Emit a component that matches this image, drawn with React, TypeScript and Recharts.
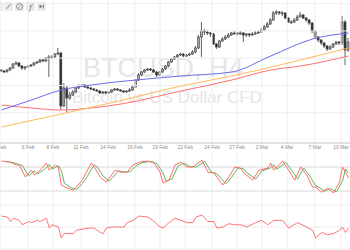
import React from "react";
import { ComposedChart, Bar, Line, XAxis, YAxis, ReferenceLine } from "recharts";

// ---------- price (H4 candles, resampled) ----------
const firstOpen = 8350;
const closes = [8295,8240,8350,8460,8680,8735,8570,8460,8515,8570,
8625,8735,8790,8900,8845,9010,9065,9065,9230,9285,
6370,7360,6810,6975,7140,7360,7470,7525,7415,7360,
7305,7250,7195,7085,7140,7085,7140,7250,7305,7250,
7195,7140,7195,7250,7415,7800,8075,8240,8350,8405,
8350,8240,8075,8240,8405,8570,8790,8955,9065,9175,
9230,9120,9175,9230,9340,9560,10165,10495,10440,10385,
10330,9780,9615,9945,10055,10165,10275,10385,10385,10330,
10385,10275,10330,10275,10330,10385,10440,10550,10715,10880,
11100,11485,11540,11485,11485,11210,10990,10990,11100,11265,
11375,11210,11100,10935,10495,10165,10000,9835,9670,9505,
9615,9780,9890,9835,10990,9450,9890];
const highs = [8405,8350,8405,8515,8735,8845,8790,8625,8570,8625,
8680,8790,8845,8955,8955,9065,9175,9175,9285,9560,
9340,7635,7470,7140,7250,7415,7580,7580,7580,7470,
7415,7360,7305,7250,7195,7195,7195,7305,7360,7360,
7305,7250,7250,7360,7525,7855,8185,8295,8405,8460,
8460,8405,8295,8295,8460,8625,8845,9010,9120,9230,
9285,9285,9230,9285,9450,9670,10275,10990,10605,10550,
10440,10385,9835,10000,10165,10275,10385,10440,10495,10440,
10495,10440,10385,10385,10440,10495,10550,10660,10825,10990,
11210,11595,11650,11595,11595,11540,11265,11100,11210,11375,
11540,11430,11265,11155,10990,10550,10220,10055,9890,9725,
9725,9835,9945,9945,11320,11100,10110];
const lows = [8240,8185,8240,8295,8405,8625,8515,8350,8350,8460,
8515,8570,8680,8735,8790,8790,7965,8955,9010,9175,
6150,6315,5985,6700,6920,7085,7305,7415,7360,7305,
7250,7195,7140,7030,7030,7030,7030,7085,7195,7195,
7140,7085,7085,7140,7195,7360,7745,8020,8185,8295,
8295,8185,7965,8020,8185,8350,8515,8735,8900,9010,
9120,9065,9065,9120,9175,9285,9505,9065,10275,10275,
10165,9725,9505,9560,9890,10000,10110,10220,10275,10220,
10275,9890,10165,10165,10220,10275,10330,10385,10495,10660,
10825,11045,11375,11375,11320,11155,10935,10880,10935,11045,
11265,11155,10990,10825,10385,10055,9890,9725,9560,9395,
9450,9560,9725,9725,9725,8625,9340];

// moving averages (read at selected bars)
const blueBars = [0, 10, 20, 30, 45, 60, 77, 90, 104, 116];
const blueVals = [6150, 6700, 7250, 7525, 7800, 8020, 8240, 9120, 10055, 10385];
const orangeBars = [0, 20, 40, 60, 77, 100, 116];
const orangeVals = [5215, 5930, 6675, 7470, 8020, 8900, 9560];
const redBars = [0, 10, 20, 30, 40, 60, 77, 90, 100, 116];
const redVals = [6425, 6260, 6150, 6260, 6480, 7195, 7800, 8350, 8570, 9120];

// date axis
const dateTickPos = [0, 9.4, 17.7, 27.1, 36.1, 45.1, 53.5, 61.9, 70.9, 79.2, 87.6, 96, 105.3, 114];
const dateLabels = ["4 Feb", "6 Feb", "8 Feb", "11 Feb", "14 Feb", "16 Feb", "19 Feb", "22 Feb", "24 Feb", "27 Feb", "2 Mar", "4 Mar", "7 Mar", "10 Mar"];
const priceGrid = [6000, 7500, 9000, 10500, 12000];

// ---------- stochastic ----------
const kBars = [0,3,5,6,8,10,11,13,15,16,18,19,20,22,24,25,27,30,31,33,35,36,38,40,42,44,46,49,51,53,54,56,58,60,62,64,67,69,71,74,76,78,80,81,84,86,89,90,91,94,96,98,100,102,104,105,107,109,111,113,114,115,116];
const kVals = [95,92,85,85,55,72,60,72,90,72,85,80,35,27,22,30,47,90,80,55,42,52,72,67,67,85,92,95,90,67,40,47,85,92,80,80,97,67,65,35,55,80,77,65,47,72,77,90,72,95,72,47,80,60,30,30,17,27,15,42,80,67,52];
const dBars = [1,4,6,7,9,11,12,14,16,17,19,20,21,23,25,26,28,31,32,34,36,37,39,41,43,45,47,50,52,54,55,57,59,61,63,65,68,70,72,75,77,79,81,82,85,87,90,91,92,95,97,99,101,103,105,106,108,110,112,114,115,116];
const dVals = [94,91,86,84,58,70,62,72,86,75,83,72,40,29,24,30,48,86,80,57,45,52,70,68,68,83,91,94,88,65,45,50,82,90,81,80,94,68,63,38,55,78,75,66,50,70,78,86,74,92,72,50,77,58,33,30,20,26,18,45,75,65];
const stochLevels = [20, 80];

// ---------- RSI ----------
const rsiBars = [0,2,3,4,6,7,9,10,12,13,15,16,17,19,20,21,24,25,29,31,33,34,35,37,41,42,44,46,49,51,53,54,56,57,58,60,62,64,65,67,69,71,72,74,76,78,80,82,85,87,89,91,94,96,99,102,104,105,107,109,111,113,114,115,116];
const rsiVals = [60,59,55,58,56,52,55,54,56,55,58,49,52,50,40,44,44,47,49,49,45,44,49,50,50,54,56,60,59,55,50,49,54,56,58,56,54,54,59,61,55,55,49,50,53,52,52,50,54,56,52,56,56,49,54,50,47,40,45,43,44,47,50,45,49];
const rsiLevels = [30, 50, 70];

const N = closes.length;

type Row = { [k: string]: number | undefined };
const priceData: Row[] = closes.map((c, i) => ({
  t: i + 0.5,
  open: i === 0 ? firstOpen : closes[i - 1],
  close: c,
  high: highs[i],
  low: lows[i],
}));
blueBars.forEach((b, k) => (priceData[b].blue = blueVals[k]));
orangeBars.forEach((b, k) => (priceData[b].orange = orangeVals[k]));
redBars.forEach((b, k) => (priceData[b].red = redVals[k]));

const stochData: Row[] = closes.map((_, i) => ({ t: i + 0.5 }));
kBars.forEach((b, k) => (stochData[b].k = kVals[k]));
dBars.forEach((b, k) => (stochData[b].d = dVals[k]));

const rsiData: Row[] = closes.map((_, i) => ({ t: i + 0.5 }));
rsiBars.forEach((b, k) => (rsiData[b].rsi = rsiVals[k]));

const GRID = "#eeeeee";

const Candle = (props: any) => {
  const { x, y, width, height, payload } = props;
  if (x == null || y == null) return null;
  const top = Math.min(y, y + height);
  const h = Math.abs(height);
  const { open, close, high, low } = payload;
  const range = high - low || 1;
  const py = (v: number) => top + ((high - v) / range) * h;
  const cx = x + width / 2;
  const bTop = py(Math.max(open, close));
  const bBot = py(Math.min(open, close));
  const bull = close >= open;
  return (
    <g>
      <line x1={cx} x2={cx} y1={top} y2={top + h} stroke="#3a3a3a" strokeWidth={0.8} />
      <rect
        x={x}
        y={bTop}
        width={width}
        height={Math.max(0.8, bBot - bTop)}
        fill={bull ? "#a8a8a8" : "#333333"}
        stroke="#3a3a3a"
        strokeWidth={0.6}
      />
    </g>
  );
};

const vLines = (keyPrefix: string) =>
  dateTickPos.map((p, i) => (
    <ReferenceLine key={keyPrefix + i} x={p} stroke={GRID} strokeWidth={1} ifOverflow="visible" />
  ));

const ToolIcons = () => (
  <svg width={60} height={14} style={{ position: "absolute", left: 0, top: 0 }}>
    <rect x={-5} y={2} width={8} height={9} fill="#ececec" />
    <rect x={4} y={2} width={9} height={9} fill="#ececec" />
    <line x1={6.5} y1={9} x2={10.5} y2={4} stroke="#777" strokeWidth={0.8} />
    <rect x={15} y={2} width={9} height={9} fill="#ececec" />
    <circle cx={19.5} cy={6.5} r={3} fill="none" stroke="#777" strokeWidth={0.8} />
    <line x1={17.5} y1={8.5} x2={21.5} y2={4.5} stroke="#777" strokeWidth={0.6} />
    <rect x={26} y={2} width={9} height={9} fill="#ececec" />
    <text x={30.5} y={9.5} fontSize={8} fontStyle="italic" fill="#777" textAnchor="middle" fontFamily="DejaVu Serif">f</text>
    <rect x={37} y={2} width={9} height={9} fill="#ececec" />
    <path d="M39.5,4.5 L42.5,6.5 L39.5,8.5 Z" fill="#777" />
    <rect x={42.8} y={4.5} width={1} height={4} fill="#777" />
  </svg>
);

export default function App() {
  return (
    <div style={{ position: "absolute", left: 0, top: 0, width: 350, height: 250, background: "#fff", overflow: "hidden", fontFamily: "'Liberation Sans', Arial, sans-serif" }}>
      <svg width={350} height={250} style={{ position: "absolute", left: 0, top: 0 }}>
        <text x={83} y={77} fontSize={27} fill="#e6e6e6" fontFamily="'Liberation Sans', Arial, sans-serif">BTCUSD, H4</text>
        <text x={72} y={103} fontSize={17} fill="#e6e6e6" fontFamily="'Liberation Sans', Arial, sans-serif">Bitcoin vs US Dollar CFD</text>
      </svg>

      <div style={{ position: "absolute", left: 0, top: 0 }}>
        <ComposedChart width={350} height={153} data={priceData} margin={{ top: 0, right: 0, bottom: 0, left: 0 }}>
          <XAxis
            dataKey="t"
            type="number"
            domain={[0, N]}
            ticks={dateTickPos}
            interval={0}
            allowDataOverflow
            tickFormatter={(_v: number, i: number) => dateLabels[i]}
            tick={{ fontSize: 5, fill: "#8c8c8c" }}
            tickLine={false}
            tickSize={2}
            tickMargin={0}
            axisLine={{ stroke: "#c4c4c4" }}
            height={10}
          />
          <YAxis hide type="number" domain={[4335, 12200]} allowDataOverflow />
          {vLines("p")}
          {priceGrid.map((g) => (
            <ReferenceLine key={"pg" + g} y={g} stroke={GRID} />
          ))}
          <Line dataKey="red" stroke="#ff7070" strokeWidth={1} dot={false} connectNulls type="monotone" isAnimationActive={false} />
          <Line dataKey="orange" stroke="#ffbb55" strokeWidth={1} dot={false} connectNulls type="monotone" isAnimationActive={false} />
          <Line dataKey="blue" stroke="#6b6bf0" strokeWidth={1} dot={false} connectNulls type="monotone" isAnimationActive={false} />
          <Bar dataKey={(d: any) => [d.low, d.high]} barSize={2} shape={(p: any) => <Candle {...p} />} isAnimationActive={false} />
        </ComposedChart>
      </div>

      <div style={{ position: "absolute", left: 0, top: 152 }}>
        <ComposedChart width={350} height={47} data={stochData} margin={{ top: 0, right: 0, bottom: 0, left: 0 }}>
          <XAxis hide dataKey="t" type="number" domain={[0, N]} allowDataOverflow />
          <YAxis hide type="number" domain={[0, 117.5]} allowDataOverflow />
          {vLines("s")}
          {stochLevels.map((l) => (
            <ReferenceLine key={"sl" + l} y={l} stroke="#d8d8d8" />
          ))}
          <Line dataKey="d" stroke="#5cb85c" strokeWidth={1} dot={false} connectNulls type="linear" isAnimationActive={false} />
          <Line dataKey="k" stroke="#ff6b6b" strokeWidth={1} dot={false} connectNulls type="linear" isAnimationActive={false} />
        </ComposedChart>
      </div>

      <div style={{ position: "absolute", left: 0, top: 199 }}>
        <ComposedChart width={350} height={51} data={rsiData} margin={{ top: 0, right: 0, bottom: 0, left: 0 }}>
          <XAxis hide dataKey="t" type="number" domain={[0, N]} allowDataOverflow />
          <YAxis hide type="number" domain={[29.1, 75.45]} allowDataOverflow />
          {vLines("r")}
          {rsiLevels.map((l) => (
            <ReferenceLine key={"rl" + l} y={l} stroke={GRID} />
          ))}
          <Line dataKey="rsi" stroke="#ff7474" strokeWidth={1} dot={false} connectNulls type="linear" isAnimationActive={false} />
        </ComposedChart>
      </div>

      <ToolIcons />
    </div>
  );
}
